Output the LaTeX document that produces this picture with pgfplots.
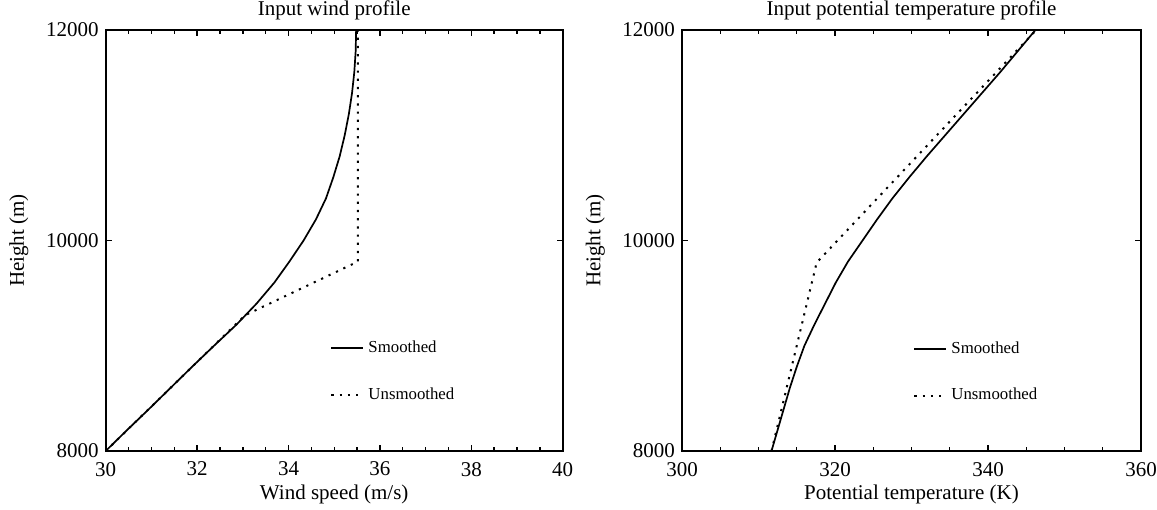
\documentclass[border=0pt]{standalone}
\usepackage{fontspec}
\setmainfont{Liberation Serif}
\usepackage{pgfplots}
\pgfplotsset{compat=1.18}
\pgfplotsset{
  prof/.style={
    scale only axis,
    anchor=south west,
    height=210.5pt,
    axis line style={line width=0.9pt},
    tick style={black, line width=0.7pt},
    major tick length=3pt,
    minor tick length=1.8pt,
    tick align=inside,
    xtick pos=both, ytick pos=both,
    minor x tick num=3,
    ymin=8000, ymax=12000,
    ytick={8000,10000,12000},
    scaled y ticks=false,
    yticklabel style={/pgf/number format/fixed},
    /pgf/number format/assume math mode=true,
    /pgf/number format/set thousands separator={},
    tick label style={font=\fontsize{10.5}{12}\selectfont},
    xticklabel style={yshift=-2pt},
    label style={font=\fontsize{10.5}{12}\selectfont},
    xlabel style={yshift=2.5pt},
    title style={font=\fontsize{10.5}{12}\selectfont, at={(axis description cs:0.5,1)}, anchor=base, yshift=1.5pt},
    legend style={draw=none, fill=none, inner sep=0pt, row sep=12pt,
      font=\fontsize{8.4}{10}\selectfont, anchor=west,
      nodes={inner sep=2pt}},
    legend cell align=left,
    legend image code/.code={\draw[#1] (0pt,0pt) -- (16pt,0pt);},
    /tikz/every even column/.append style={column sep=3pt},
  },
  smoothline/.style={black, line width=0.85pt},
  dotline/.style={black, line width=1pt, dash pattern=on 1.1pt off 3pt},
}
\begin{document}
\begin{tikzpicture}
\useasboundingbox (0,0) rectangle (578.5pt,254.5pt);
\begin{axis}[prof,
  at={(52.85pt,29pt)}, width=228.5pt,
  xmin=30, xmax=40, xtick={30,32,34,36,38,40},
  xlabel={Wind speed (m/s)}, ylabel={Height (m)},
  ylabel style={at={(axis description cs:-0.19,0.5)}, anchor=center},
  title={Input wind profile},
  legend style={at={(axis cs:34.91,8755)}},
]
\addplot[smoothline] coordinates {
(30.00,8000) (30.47,8200) (30.95,8400) (31.42,8600) (31.89,8800)
(32.37,9000) (32.86,9200) (33.30,9400) (33.69,9600) (34.02,9800)
(34.33,10000) (34.60,10200) (34.82,10400) (34.98,10600) (35.12,10800)
(35.23,11000) (35.32,11200) (35.39,11400) (35.44,11600) (35.47,11800)
(35.48,12000)};
\addlegendentry{Smoothed}
\addplot[dotline] coordinates {
(30.00,8000) (33.05,9290) (35.52,9800) (35.52,12000)};
\addlegendentry{Unsmoothed}
\end{axis}
\begin{axis}[prof,
  at={(341pt,29pt)}, width=229.5pt,
  xmin=300, xmax=360, xtick={300,320,340,360},
  xlabel={Potential temperature (K)}, ylabel={Height (m)},
  ylabel style={at={(axis description cs:-0.189,0.5)}, anchor=center},
  title={Input potential temperature profile},
  legend style={at={(axis cs:330.2,8748)}},
]
\addplot[smoothline] coordinates {
(311.7,8000) (312.5,8200) (313.3,8400) (314.1,8600) (315.0,8800)
(316.0,9000) (317.3,9200) (318.7,9400) (320.1,9600) (321.7,9800)
(323.6,10000) (325.5,10200) (327.5,10400) (329.7,10600) (332.0,10800)
(334.4,11000) (336.8,11200) (339.2,11400) (341.6,11600) (343.9,11800)
(346.2,12000)};
\addlegendentry{Smoothed}
\addplot[dotline] coordinates {
(311.7,8000) (317.6,9790) (346.3,12000)};
\addlegendentry{Unsmoothed}
\end{axis}
\end{tikzpicture}
\end{document}
